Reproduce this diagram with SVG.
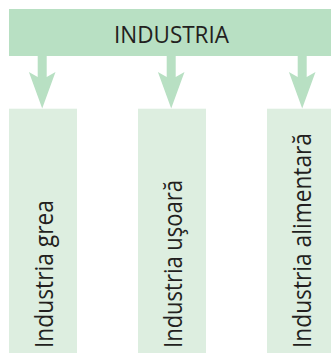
<svg xmlns="http://www.w3.org/2000/svg" width="331" height="353" viewBox="0 0 331 353">
<style>
.bar{fill:#b8e0c3}
.box{fill:#ddeee0}
.arr{fill:#b8e0c3}
.t{font-family:"Open Sans","Noto Sans",sans-serif;fill:#231f20}
.v{font-size:26px}
</style>
<defs>
<path id="arrow" d="M-4.5,56 L4.5,56 L4.5,77 L13.3,72 L0,108.5 L-13.3,72 L-4.5,77 Z"/>
</defs>
<rect width="331" height="353" fill="#ffffff"/>
<g id="industria">
<rect class="bar" x="9" y="9" width="322" height="47"/>
<text class="t" x="171.5" y="42.7" font-size="22.8" text-anchor="middle" textLength="115" lengthAdjust="spacingAndGlyphs">INDUSTRIA</text>
</g>
<g id="connectors">
<use href="#arrow" class="arr" transform="translate(42.2,0)"/>
<use href="#arrow" class="arr" transform="translate(171.2,0)"/>
<use href="#arrow" class="arr" transform="translate(302.2,0)"/>
</g>
<g id="grea">
<rect class="box" x="9" y="108.7" width="68" height="244.3"/>
<text class="t v" transform="translate(53.3,348) rotate(-90)" textLength="148" lengthAdjust="spacingAndGlyphs">Industria grea</text>
</g>
<g id="usoara">
<rect class="box" x="138" y="108.7" width="68" height="244.3"/>
<text class="t v" transform="translate(182.3,348) rotate(-90)" textLength="168" lengthAdjust="spacingAndGlyphs">Industria uşoară</text>
</g>
<g id="alimentara">
<rect class="box" x="267" y="108.7" width="64" height="244.3"/>
<text class="t v" transform="translate(311.3,348) rotate(-90)" textLength="215" lengthAdjust="spacingAndGlyphs">Industria alimentară</text>
</g>
</svg>
